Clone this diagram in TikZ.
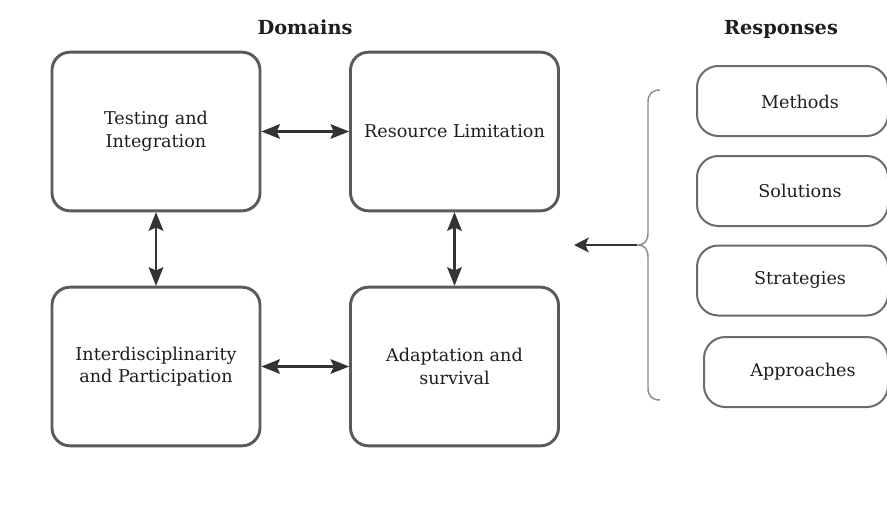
\documentclass[tikz,border=0pt]{standalone}
\usepackage{fontspec}
\setmainfont{DejaVu Serif}
\usetikzlibrary{arrows.meta}
\definecolor{boxline}{HTML}{5A5A5A}
\definecolor{rline}{HTML}{6A6A6A}
\definecolor{arr}{HTML}{333333}
\definecolor{brc}{HTML}{8C8C8C}
\definecolor{txt}{HTML}{1E1E1E}
\begin{document}
\begin{tikzpicture}[x=0.75pt,y=-0.75pt,
  dombox/.style={draw=boxline, line width=2.2pt, rounded corners=13.5pt, minimum width=156pt, minimum height=119pt, align=center, text=txt, font=\fontsize{13.2}{17}\selectfont, inner sep=0pt, outer sep=1pt},
  resp/.style={draw=rline, line width=1.5pt, rounded corners=16pt, minimum height=52.5pt, inner sep=0pt},
  resptext/.style={text=txt, font=\fontsize{13.2}{16}\selectfont},
  title/.style={text=txt, font=\fontsize{14.5}{17}\selectfont\bfseries, anchor=base},
  biarrow/.style={draw=arr, line width=1.6pt, {Stealth[length=14pt,width=11pt,inset=2.5pt]}-{Stealth[length=14pt,width=11pt,inset=2.5pt]}},
  onearrow/.style={draw=arr, line width=1.6pt, -{Stealth[length=11pt,width=11pt,inset=2.5pt]}},
]
\useasboundingbox (0,0) rectangle (887,507);
\clip (0,0) rectangle (887,507);

\node[title] (tdom) at (305,34) {Domains};
\node[title] (tresp) at (781,34) {Responses};

\node[dombox] (ti) at (156,131.5) {Testing and\\Integration};
\node[dombox] (rl) at (454.5,131.5) {Resource Limitation};
\node[dombox] (ip) at (156,366.5) {Interdisciplinarity\\and Participation};
\node[dombox] (as) at (454.5,366.5) {Adaptation and\\survival};

\draw[biarrow] (ti) -- (rl);
\draw[biarrow] (ip) -- (as);
\draw[biarrow] (ti) -- (ip);
\draw[biarrow] (rl) -- (as);

\node[resp, minimum width=143.25pt] (me) at (792.5,101) {};
\node[resp, minimum width=143.25pt] (so) at (792.5,191) {};
\node[resp, minimum width=143.25pt] (st) at (792.5,280.5) {};
\node[resp, minimum width=138pt] (ap) at (796,372) {};
\node[resptext] (met) at (800,102) {Methods};
\node[resptext] (sot) at (800,191) {Solutions};
\node[resptext] (stt) at (800,280) {Strategies};
\node[resptext] (apt) at (803,372) {Approaches};

\draw[brc, line width=1.1pt] (660,90) .. controls (652,90) and (648,94) .. (648,102)
  -- (648,233) .. controls (648,241) and (644,245) .. (638,245)
  .. controls (644,245) and (648,249) .. (648,257)
  -- (648,388) .. controls (648,396) and (652,400) .. (660,400);
\coordinate (bracetip) at (637,245);
\coordinate (leftend) at (574,245);
\draw[onearrow] (bracetip) -- (leftend);
\end{tikzpicture}
\end{document}
